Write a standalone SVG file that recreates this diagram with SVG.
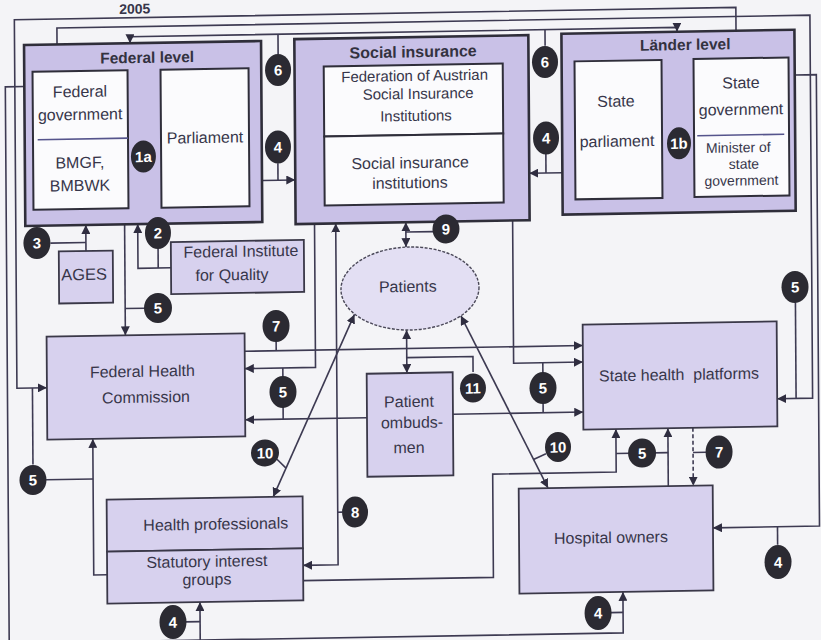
<svg xmlns="http://www.w3.org/2000/svg" width="821" height="640" viewBox="0 0 821 640">
<style>
  .t{font-family:"Liberation Sans",Arial,sans-serif;font-size:16px;fill:#37364a;text-anchor:middle}
  .h{font-weight:bold;font-size:15.5px;fill:#33323f}
  .s{font-size:15px}
  .xs{font-size:14px}
  .grp{fill:#c9c1e7;stroke:#2f2e3a;stroke-width:2.6}
  .wb{fill:#fbfbfd;stroke:#2f2e3a;stroke-width:2}
  .bx{fill:#d7d1ee;stroke:#3a3848;stroke-width:1.8}
  .dv{stroke:#55548c;stroke-width:1.6}
  .c path{fill:none;stroke:#3d3a52;stroke-width:1.6}
  .c .ar{marker-end:url(#ah)}
  .c .ar2{marker-start:url(#ah);marker-end:url(#ah)}
  .c .dash{stroke-dasharray:4 2.5}
  .bd ellipse{fill:#2b2a32}
  .bd text{font-family:"Liberation Sans",Arial,sans-serif;font-weight:bold;font-size:15px;fill:#ffffff;text-anchor:middle}
</style>
<defs>
  <marker id="ah" viewBox="0 0 10 10" refX="10" refY="5" markerWidth="9" markerHeight="9" markerUnits="userSpaceOnUse" orient="auto-start-reverse">
    <path d="M0,0 L10,5 L0,10 z" fill="#2f2d40"/>
  </marker>
</defs>
<rect width="821" height="640" fill="#f4f4f7"/>
<g transform="matrix(1,-0.017,0.007,1,-2.24,6.97)">
  <text class="t" x="137" y="9" style="font-weight:bold;font-size:14px">2005</text>

  <!-- connectors -->
  <g id="connectors" class="c">
    <path class="ar" d="M738,36 V13 H16.5 V381.5 H46.5"/>
    <path d="M32,381.5 V458"/>
    <path class="ar" d="M59,38.5 V22 H812 V405 H776.6"/>
    <path d="M795.5,309 V405"/>
    <path class="ar2" d="M132,38.5 V32 H679 V36.3"/>
    <path d="M280,32 V52 M547,32 V48"/>
    <path class="ar" d="M796.4,81.6 H818 V533 H711.5"/>
    <path d="M776,533 V551"/>
    <path class="ar" d="M26.3,80 H7 V636.5 H621 V595.5"/>
    <path class="ar" d="M198,636.5 V598.5"/>
    <path d="M183,618 H198 M608.5,616 H621"/>
    <path class="ar" d="M263.5,178 H296.3"/>
    <path d="M279,161 V178"/>
    <path class="ar" d="M563.4,175.3 H530.3"/>
    <path d="M547,156 V175.3"/>
    <path class="ar" d="M129.3,92.5 H162.3"/>
    <path class="ar" d="M162.3,110.5 H129.3"/>
    <path d="M144.6,92.5 V137 M152.5,110.5 V140"/>
    <path class="ar" d="M663.3,90.6 H695.3"/>
    <path class="ar" d="M695.3,107.9 H663.3"/>
    <path d="M679.5,90.6 V133 M687.5,107.9 V136"/>
    <path class="ar" d="M86.5,245.5 V219.5"/>
    <path d="M51,237 H86.5"/>
    <path class="ar" d="M171.4,263.7 H138.4 V219.5"/>
    <path d="M158.6,244 V263.7"/>
    <path class="ar" d="M125.3,219.5 V330.5"/>
    <path d="M125.3,303.7 H145"/>
    <path class="ar" d="M244.5,348.5 H582.6"/>
    <path d="M276,339 V348.5"/>
    <path class="ar" d="M315.2,222.2 V365.8 H244.5"/>
    <path class="ar" d="M366.3,417 H244.5"/>
    <path d="M282.5,365.8 V417"/>
    <path class="ar" d="M513.3,222.2 V365 H582.6"/>
    <path class="ar" d="M452.3,415 H582.6"/>
    <path d="M542.5,365 V415"/>
    <path class="ar2" d="M406.5,222.2 V247"/>
    <path d="M406.5,232 H434"/>
    <path class="ar2" d="M406.5,330 V373"/>
    <path d="M406.5,357.6 H472.7 V373"/>
    <path class="ar2" d="M272,494.5 L354.5,313.5"/>
    <path d="M276,457 L285,466"/>
    <path class="ar2" d="M460.9,316.7 L546.8,490.3"/>
    <path d="M545,456 L532.5,461.5"/>
    <path class="ar" d="M105.4,569.6 H92 V433.5"/>
    <path d="M45,473.6 H92"/>
    <path class="ar2" d="M336.4,222.2 V563.5 H301.4"/>
    <path d="M336.4,511 H341"/>
    <path class="ar" d="M301.4,578.8 H491.6 V475.5 H615.1 V432.6"/>
    <path class="ar" d="M667.1,490.5 V432.6"/>
    <path d="M615.1,457 H667.1"/>
    <path class="ar dash" d="M692.1,432.6 V490.5"/>
    <path d="M692.1,457.3 H705"/>
  </g>

  <!-- nodes -->
  <g id="federal-level">
    <rect class="grp" x="26" y="38.5" width="237" height="181"/>
    <text class="t h" x="149" y="58.4">Federal level</text>
  </g>
  <g id="federal-government">
    <rect class="wb" x="34.3" y="65.4" width="95" height="138"/>
    <line class="dv" x1="39" y1="133.4" x2="129.3" y2="133.4"/>
    <text class="t" x="81.6" y="91.4">Federal</text>
    <text class="t" x="81.6" y="114.4">government</text>
    <text class="t" x="81" y="162.4">BMGF,</text>
    <text class="t" x="81" y="185.4">BMBWK</text>
  </g>
  <g id="parliament">
    <rect class="wb" x="162.3" y="65.5" width="88" height="138"/>
    <text class="t" x="206.3" y="139.5">Parliament</text>
  </g>
  <g id="social-insurance">
    <rect class="grp" x="296.3" y="37.2" width="234" height="185"/>
    <text class="t h" x="415" y="57.4" style="font-size:16px">Social insurance</text>
  </g>
  <g id="federation-austrian-si">
    <rect class="wb" x="325.5" y="65" width="179" height="70"/>
    <text class="t s" x="416.3" y="81">Federation of Austrian</text>
    <text class="t s" x="419.7" y="99">Social Insurance</text>
    <text class="t s" x="417.4" y="121">Institutions</text>
  </g>
  <g id="si-institutions">
    <rect class="wb" x="325.5" y="135" width="179" height="69"/>
    <text class="t" x="411.2" y="168.3">Social insurance</text>
    <text class="t" x="410.9" y="188.3">institutions</text>
  </g>
  <g id="laender-level">
    <rect class="grp" x="563.4" y="36.3" width="233" height="181"/>
    <text class="t h" x="687.1" y="54.7">Länder level</text>
  </g>
  <g id="state-parliament">
    <rect class="wb" x="576.3" y="64.2" width="87" height="138"/>
    <text class="t" x="617.5" y="110.2">State</text>
    <text class="t" x="618.2" y="150.2">parliament</text>
  </g>
  <g id="state-government">
    <rect class="wb" x="695.3" y="63.9" width="95" height="138"/>
    <line class="dv" x1="698.5" y1="140.6" x2="785.5" y2="140.6"/>
    <text class="t" x="742.6" y="93.9">State</text>
    <text class="t" x="742.4" y="120.6">government</text>
    <text class="t xs" x="739.5" y="158">Minister of</text>
    <text class="t xs" x="745" y="174.5">state</text>
    <text class="t xs" x="742.4" y="191">government</text>
  </g>
  <g id="ages">
    <rect class="bx" x="59.3" y="245.5" width="54" height="52"/>
    <text class="t" x="84.5" y="274.5" style="font-size:16.5px">AGES</text>
  </g>
  <g id="federal-institute-quality">
    <rect class="bx" x="171.4" y="238.1" width="133" height="52"/>
    <text class="t" x="241.4" y="253.9">Federal Institute</text>
    <text class="t" x="232.3" y="277.3">for Quality</text>
  </g>
  <g id="patients">
    <ellipse cx="410.2" cy="288.5" rx="69" ry="41.5" fill="#e3dff3" stroke="#4a4858" stroke-width="1.4" stroke-dasharray="3 1.5"/>
    <text class="t" x="408" y="292">Patients</text>
  </g>
  <g id="federal-health-commission">
    <rect class="bx" x="46.5" y="330.5" width="198" height="103"/>
    <text class="t" x="142" y="372.2">Federal Health</text>
    <text class="t" x="145.4" y="398.2">Commission</text>
  </g>
  <g id="patient-ombudsmen">
    <rect class="bx" x="366.3" y="373" width="86" height="103"/>
    <text class="t" x="408.4" y="407">Patient</text>
    <text class="t" x="411.3" y="428">ombuds-</text>
    <text class="t" x="408.1" y="453">men</text>
  </g>
  <g id="state-health-platforms">
    <rect class="bx" x="582.6" y="327.6" width="194" height="105"/>
    <text class="t" x="678.6" y="384.6" style="white-space:pre">State health  platforms</text>
  </g>
  <g id="health-professionals">
    <rect class="bx" x="105.4" y="494.5" width="196" height="52"/>
    <text class="t" x="214.4" y="526.3">Health professionals</text>
  </g>
  <g id="statutory-interest-groups">
    <rect class="bx" x="105.4" y="546.5" width="196" height="52"/>
    <text class="t" x="205.2" y="563.4">Statutory interest</text>
    <text class="t" x="205.1" y="581.4">groups</text>
  </g>
  <g id="hospital-owners">
    <rect class="bx" x="517.5" y="490.5" width="194" height="105"/>
    <text class="t" x="609.4" y="546.4">Hospital owners</text>
  </g>

  <!-- numbered connector labels -->
  <g id="badges" class="bd">
    <g><ellipse cx="144.6" cy="152" rx="12.5" ry="16"/><text x="144.6" y="157.5">1a</text></g>
    <g><ellipse cx="680.2" cy="147.9" rx="12" ry="16"/><text x="680.2" y="153.4">1b</text></g>
    <g><ellipse cx="279.8" cy="67.8" rx="13" ry="16"/><text x="279.8" y="73.3">6</text></g>
    <g><ellipse cx="546.8" cy="64.3" rx="13" ry="16"/><text x="546.8" y="69.8">6</text></g>
    <g><ellipse cx="279.2" cy="144.8" rx="13" ry="16.5"/><text x="279.2" y="150.3">4</text></g>
    <g><ellipse cx="547.3" cy="140.3" rx="13" ry="16.5"/><text x="547.3" y="145.8">4</text></g>
    <g><ellipse cx="37.5" cy="236.7" rx="13.5" ry="16"/><text x="37.5" y="242.2">3</text></g>
    <g><ellipse cx="158.6" cy="228.7" rx="13" ry="16"/><text x="158.6" y="234.2">2</text></g>
    <g><ellipse cx="158.1" cy="303.7" rx="14" ry="15"/><text x="158.1" y="309.2">5</text></g>
    <g><ellipse cx="276" cy="323.7" rx="13.5" ry="16"/><text x="276" y="329.2">7</text></g>
    <g><ellipse cx="282.5" cy="389.8" rx="13.5" ry="16"/><text x="282.5" y="395.3">5</text></g>
    <g><ellipse cx="446.6" cy="229.6" rx="13.5" ry="14.5"/><text x="446.6" y="235.1">9</text></g>
    <g><ellipse cx="472.5" cy="389.1" rx="13" ry="14.5"/><text x="472.5" y="394.6">11</text></g>
    <g><ellipse cx="542.5" cy="390.3" rx="13.5" ry="16"/><text x="542.5" y="395.8">5</text></g>
    <g><ellipse cx="795.2" cy="293.5" rx="13.5" ry="16"/><text x="795.2" y="299">5</text></g>
    <g><ellipse cx="31.9" cy="473.6" rx="13.5" ry="15"/><text x="31.9" y="479.1">5</text></g>
    <g><ellipse cx="264.1" cy="450.5" rx="14" ry="13.5"/><text x="264.1" y="456">10</text></g>
    <g><ellipse cx="557.1" cy="449.5" rx="13" ry="15"/><text x="557.1" y="455">10</text></g>
    <g><ellipse cx="353.7" cy="511.1" rx="13" ry="15.5"/><text x="353.7" y="516.6">8</text></g>
    <g><ellipse cx="641.1" cy="457" rx="14" ry="14.5"/><text x="641.1" y="462.5">5</text></g>
    <g><ellipse cx="718.1" cy="457.3" rx="13.5" ry="16.5"/><text x="718.1" y="462.8">7</text></g>
    <g><ellipse cx="776.3" cy="568.3" rx="13.5" ry="17"/><text x="776.3" y="573.8">4</text></g>
    <g><ellipse cx="170.9" cy="618" rx="13.5" ry="17"/><text x="170.9" y="623.5">4</text></g>
    <g><ellipse cx="596" cy="616.2" rx="13.5" ry="17"/><text x="596" y="621.7">4</text></g>
  </g>
</g>
</svg>
